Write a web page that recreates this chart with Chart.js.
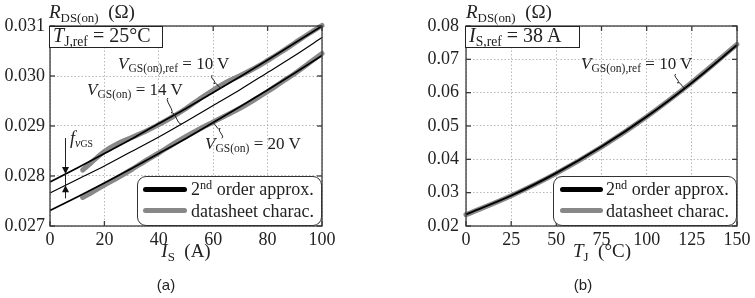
<!DOCTYPE html>
<html>
<head>
<meta charset="utf-8">
<script src="https://cdn.jsdelivr.net/npm/chart.js"></script>
<style>
  body { margin: 0; background: #fff; }
  #fig { position: relative; width: 755px; height: 298px; overflow: hidden; font-family: 'Liberation Serif', serif; color: #222; }
  canvas { position: absolute; top: 0; }
  .t { position: absolute; white-space: nowrap; line-height: 1; }
  .s { font-size: 0.68em; position: relative; top: 0.28em; font-style: normal; }
  .p { font-size: 0.68em; position: relative; top: -0.5em; }
  .box { position: absolute; box-sizing: border-box; border: 1.5px solid #222; background: #fff; font-size: 20px; line-height: 16px; padding-left: 3px; white-space: nowrap; }
  .leg { position: absolute; box-sizing: border-box; border: 1.4px solid #333; border-radius: 9px; background: #fff; }
  .sw { position: absolute; height: 5px; border-radius: 3px; }
  .lt { position: absolute; font-size: 18px; line-height: 1; white-space: nowrap; }
  .cap { position: absolute; font-family: 'Liberation Sans', sans-serif; font-size: 15px; line-height: 1; transform: translateX(-50%); }
</style>
</head>
<body>
<div id="fig">
  <canvas id="chartA" width="340" height="298" style="left:0"></canvas>
  <canvas id="chartB" width="355" height="298" style="left:400px"></canvas>

  <!-- textos do grafico (a) -->
  <div class="t" style="left:49px; top:2px; font-size:19px"><i>R</i><span class="s">DS(on)</span>&nbsp; (Ω)</div>
  <div class="box" style="left:49px; top:26px; width:114px; height:22px"><i>T</i><span class="s">J,ref</span> = 25°C</div>
  <div class="t" style="left:118px; top:55px; font-size:17px"><i>V</i><span class="s">GS(on),ref</span> = 10 V</div>
  <div class="t" style="left:87px; top:81px; font-size:17px"><i>V</i><span class="s">GS(on)</span> = 14 V</div>
  <div class="t" style="left:205px; top:135px; font-size:17px"><i>V</i><span class="s">GS(on)</span> = 20 V</div>
  <div class="t" style="left:70px; top:129px; font-size:18px"><i>f</i><span class="s"><i>v</i><span style="font-size:0.8em">GS</span></span></div>
  <div class="t" style="left:186px; top:241px; font-size:19px; transform:translateX(-50%)"><i>I</i><span class="s">S</span>&nbsp; (A)</div>
  <div class="cap" style="left:166px; top:277px">(a)</div>
  <div class="leg" style="left:137px; top:176px; width:185px; height:50px">
    <div class="sw" style="left:5px; top:10px; width:44px; background:#000"></div>
    <div class="sw" style="left:5px; top:31px; width:44px; background:#888"></div>
    <div class="lt" style="left:53px; top:3px">2<span class="p">nd</span> order approx.</div>
    <div class="lt" style="left:53px; top:25px">datasheet charac.</div>
  </div>

  <!-- textos do grafico (b) -->
  <div class="t" style="left:466px; top:2px; font-size:19px"><i>R</i><span class="s">DS(on)</span>&nbsp; (Ω)</div>
  <div class="box" style="left:465px; top:26px; width:115px; height:22px"><i>I</i><span class="s">S,ref</span> = 38 A</div>
  <div class="t" style="left:581px; top:55px; font-size:17px"><i>V</i><span class="s">GS(on),ref</span> = 10 V</div>
  <div class="t" style="left:602px; top:241px; font-size:19px; transform:translateX(-50%)"><i>T</i><span class="s">J</span>&nbsp; (°C)</div>
  <div class="cap" style="left:583px; top:277px">(b)</div>
  <div class="leg" style="left:553px; top:176px; width:184px; height:50px">
    <div class="sw" style="left:6px; top:10px; width:43px; background:#000"></div>
    <div class="sw" style="left:6px; top:31px; width:43px; background:#888"></div>
    <div class="lt" style="left:52px; top:3px">2<span class="p">nd</span> order approx.</div>
    <div class="lt" style="left:52px; top:25px">datasheet charac.</div>
  </div>
</div>

<script>
// (a) R_DS(on) x I_S
const currentA = [0, 10, 20, 30, 40, 50, 60, 70, 80, 90, 100];
const fit10V = [0.02788, 0.02816, 0.02845, 0.02874, 0.02905, 0.02935, 0.02967, 0.02999, 0.03032, 0.03066, 0.03100];
const fit14V = [0.02766, 0.02793, 0.02820, 0.02849, 0.02878, 0.02909, 0.02941, 0.02973, 0.03007, 0.03041, 0.03077];
const fit20V = [0.02731, 0.02758, 0.02786, 0.02815, 0.02845, 0.02875, 0.02907, 0.02939, 0.02972, 0.03006, 0.03041];
const sheetCurrent = [12, 15, 20, 25, 30, 35, 40, 45, 50, 55, 60, 65, 70, 75, 80, 85, 90, 95, 100];
const sheet10V = [0.02812, 0.02826, 0.02849, 0.02865, 0.02877, 0.02889, 0.02903, 0.02918, 0.02935, 0.02954, 0.02972, 0.02988, 0.03001, 0.03015, 0.03031, 0.03048, 0.03066, 0.03084, 0.03101];
const sheet20V = [0.02757, 0.02766, 0.02782, 0.02797, 0.02813, 0.02830, 0.02846, 0.02863, 0.02879, 0.02894, 0.02908, 0.02922, 0.02936, 0.02952, 0.02969, 0.02987, 0.03005, 0.03025, 0.03045];
const ticksIS = [0, 20, 40, 60, 80, 100];
const ticksRa = [0.027, 0.028, 0.029, 0.030, 0.031];

// (b) R_DS(on) x T_J
const tempJ = [0, 25, 50, 75, 100, 125, 150];
const fitTJ = [0.0235, 0.0291, 0.0359, 0.0438, 0.0528, 0.0630, 0.0743];
const sheetTJ = [0.0234, 0.0291, 0.0358, 0.0437, 0.0528, 0.0631, 0.0745];
const ticksTJ = [0, 25, 50, 75, 100, 125, 150];
const ticksRb = [0.02, 0.03, 0.04, 0.05, 0.06, 0.07, 0.08];

const pts = (xs, ys) => xs.map((x, i) => ({x: x, y: ys[i]}));

function interp(xs, ys, v) {
    for (let i = 1; i < xs.length; i++) {
        if (v <= xs[i]) {
            const f = (v - xs[i - 1]) / (xs[i] - xs[i - 1]);
            return ys[i - 1] + f * (ys[i] - ys[i - 1]);
        }
    }
    return ys[ys.length - 1];
}

function line(ctx, x1, y1, x2, y2) {
    ctx.beginPath(); ctx.moveTo(x1, y1); ctx.lineTo(x2, y2); ctx.stroke();
}

// chaveta pequena entre o texto e a curva
function brace(ctx, P, Q, w) {
    const d = {x: P.x - Q.x, y: P.y - Q.y};
    const len = Math.hypot(d.x, d.y);
    const n = {x: -d.y / len, y: d.x / len};
    const pt = (t, o) => [Q.x + d.x * t + n.x * o, Q.y + d.y * t + n.y * o];
    ctx.beginPath();
    ctx.moveTo(...pt(0, 0));
    ctx.quadraticCurveTo(...pt(0, w / 2), ...pt(0.15, w / 2));
    ctx.lineTo(...pt(0.38, w / 2));
    ctx.quadraticCurveTo(...pt(0.5, w / 2), ...pt(0.5, w));
    ctx.quadraticCurveTo(...pt(0.5, w / 2), ...pt(0.62, w / 2));
    ctx.lineTo(...pt(0.85, w / 2));
    ctx.quadraticCurveTo(...pt(1, w / 2), ...pt(1, 0));
    ctx.stroke();
}

function arrowHead(ctx, x, y, dir) {
    ctx.beginPath();
    ctx.moveTo(x, y);
    ctx.lineTo(x - 3.5, y - dir * 7);
    ctx.lineTo(x + 3.5, y - dir * 7);
    ctx.closePath();
    ctx.fill();
}

const framePlugin = {
    id: 'frame',
    afterDatasetsDraw(chart, args, opts) {
        const {ctx, chartArea: a, scales: {x, y}} = chart;
        ctx.save();
        ctx.strokeStyle = '#3a3a3a';
        ctx.lineWidth = 1.3;
        ctx.strokeRect(a.left, a.top, a.right - a.left, a.bottom - a.top);
        x.ticks.forEach(t => {
            const px = x.getPixelForValue(t.value);
            line(ctx, px, a.bottom, px, a.bottom - 5);
            line(ctx, px, a.top, px, a.top + 5);
        });
        y.ticks.forEach(t => {
            const py = y.getPixelForValue(t.value);
            line(ctx, a.left, py, a.left + 5, py);
            line(ctx, a.right, py, a.right - 5, py);
        });

        ctx.strokeStyle = '#222';
        ctx.lineWidth = 1;
        (opts.braces || []).forEach(b => {
            const P = {x: x.getPixelForValue(b.at), y: y.getPixelForValue(interp(b.xs, b.ys, b.at))};
            brace(ctx, P, {x: P.x + b.dx, y: P.y + b.dy}, 4);
        });

        const f = opts.arrow;
        if (f) {
            const px = x.getPixelForValue(f.at);
            const top = y.getPixelForValue(interp(f.xs, f.upper, f.at));
            const bot = y.getPixelForValue(interp(f.xs, f.lower, f.at));
            ctx.fillStyle = '#111';
            line(ctx, px, top - 36, px, bot + 13);
            arrowHead(ctx, px, top, 1);
            arrowHead(ctx, px, bot, -1);
        }
        ctx.restore();
    }
};

const tickFont = {family: "'Liberation Serif', serif", size: 18};

function axes(xMin, xMax, xTicks, yMin, yMax, yTicks, yDec, yWidth, yPad) {
    return {
        x: {
            type: 'linear', min: xMin, max: xMax,
            afterBuildTicks: s => { s.ticks = xTicks.map(v => ({value: v})); },
            afterFit: s => { s.height = 72; },
            grid: {color: '#b8b8b8', lineWidth: 1, drawTicks: false},
            border: {display: false, dash: [1.5, 2]},
            ticks: {font: tickFont, color: '#222', padding: 3, autoSkip: false, maxRotation: 0, callback: v => String(v)}
        },
        y: {
            type: 'linear', min: yMin, max: yMax,
            afterBuildTicks: s => { s.ticks = yTicks.map(v => ({value: v})); },
            afterFit: s => { s.width = yWidth; },
            grid: {color: '#b8b8b8', lineWidth: 1, drawTicks: false},
            border: {display: false, dash: [1.5, 2]},
            ticks: {font: tickFont, color: '#222', padding: yPad, callback: v => v.toFixed(yDec)}
        }
    };
}

const black = (data, w) => ({data: data, borderColor: '#000', borderWidth: w, pointRadius: 0, tension: 0.3, clip: 4});
const gray = data => ({data: data, borderColor: '#888', borderWidth: 5, pointRadius: 0, tension: 0.4, borderCapStyle: 'round', clip: 4});

new Chart(document.getElementById('chartA'), {
    type: 'line',
    data: {
        datasets: [
            black(pts(currentA, fit10V), 1.8),
            black(pts(currentA, fit14V), 1.2),
            black(pts(currentA, fit20V), 1.8),
            gray(pts(sheetCurrent, sheet10V)),
            gray(pts(sheetCurrent, sheet20V))
        ]
    },
    options: {
        responsive: false,
        animation: false,
        layout: {padding: {top: 26, right: 18, left: 0, bottom: 0}},
        plugins: {
            legend: {display: false},
            tooltip: {enabled: false},
            frame: {
                braces: [
                    {xs: currentA, ys: fit10V, at: 63.2, dx: -9.7, dy: -12.3},
                    {xs: currentA, ys: fit14V, at: 48.4, dx: -13.7, dy: -26},
                    {xs: currentA, ys: fit20V, at: 59.5, dx: 10, dy: 15}
                ],
                arrow: {xs: currentA, upper: fit10V, lower: fit14V, at: 5.7}
            }
        },
        scales: axes(0, 100, ticksIS, 0.027, 0.031, ticksRa, 3, 50, 5)
    },
    plugins: [framePlugin]
});

new Chart(document.getElementById('chartB'), {
    type: 'line',
    data: {
        datasets: [
            black(pts(tempJ, fitTJ), 2),
            gray(pts(tempJ, sheetTJ))
        ]
    },
    options: {
        responsive: false,
        animation: false,
        layout: {padding: {top: 26, right: 18, left: 0, bottom: 0}},
        plugins: {
            legend: {display: false},
            tooltip: {enabled: false},
            frame: {
                braces: [
                    {xs: tempJ, ys: fitTJ, at: 121.6, dx: -10, dy: -13.3}
                ]
            }
        },
        scales: axes(0, 150, ticksTJ, 0.02, 0.08, ticksRb, 2, 66, 7)
    },
    plugins: [framePlugin]
});
</script>
</body>
</html>
